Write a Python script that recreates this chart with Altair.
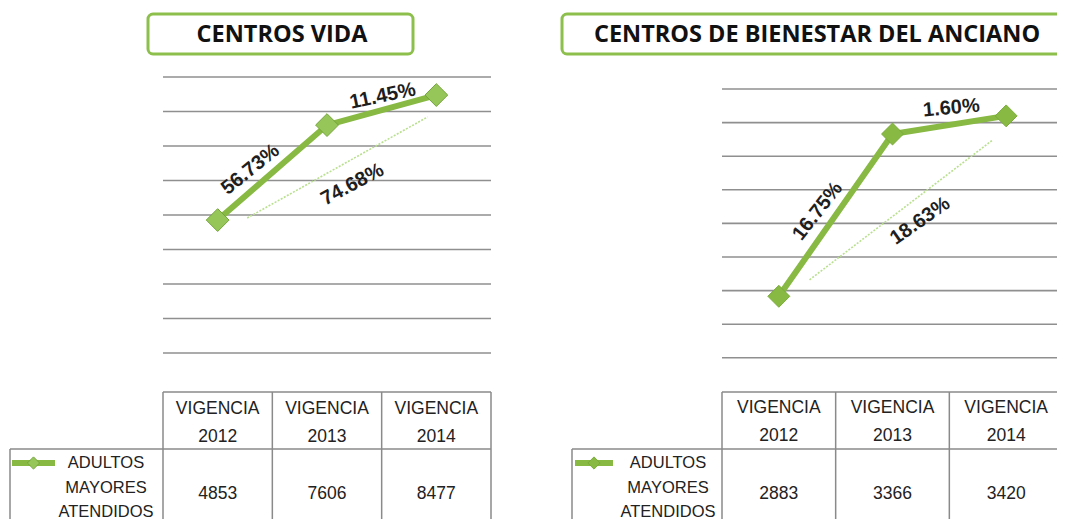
import altair as alt
import pandas as pd
import math

# ---------------- data ----------------
YEARS = [2012, 2013, 2014]
TICK_LABELS = ["VIGENCIA 2012", "VIGENCIA 2013", "VIGENCIA 2014"]
SERIES_NAME = "ADULTOS MAYORES ATENDIDOS"
COLUMN_EDGES = [2011.5, 2012.5, 2013.5, 2014.5]

VIDA_TITLE = "CENTROS VIDA"
VIDA_VALUES = [4853, 7606, 8477]
VIDA_GRID = [1000, 2000, 3000, 4000, 5000, 6000, 7000, 8000, 9000]
VIDA_PCT = ["56.73%", "11.45%", "74.68%"]
VIDA_TREND_YEARS = [2012.27, 2013.92]
VIDA_TREND_VALUES = [4913, 7841]

BIEN_TITLE = "CENTROS DE BIENESTAR DEL ANCIANO"
BIEN_VALUES = [2883, 3366, 3420]
BIEN_GRID = [2700, 2800, 2900, 3000, 3100, 3200, 3300, 3400, 3500]
BIEN_PCT = ["16.75%", "1.60%", "18.63%"]
BIEN_TREND_YEARS = [2012.27, 2013.88]
BIEN_TREND_VALUES = [2932, 3348]

# ---------------- style ----------------
O = 8  # page margin
GREEN = "#87b943"
GRID = "#8f8f8f"
BORDER = "#8a8a8a"
LABEL_FONT = "Liberation Sans"
TITLE_FONT = "Open Sans"
TABLE_FS = 17.5


def rot_offset(sx, sy, ang):
    """convert a screen offset into the rotated text frame used by Vega"""
    t = math.radians(ang)
    dx = sx * math.cos(t) + sy * math.sin(t)
    dy = -sx * math.sin(t) + sy * math.cos(t)
    return dx, dy


def panel(p):
    xs = alt.Scale(domain=[COLUMN_EDGES[0], COLUMN_EDGES[-1]], range=[p["x0"] - O, p["x1"] - O])
    ys = alt.Scale(domain=p["ydom"], range=[p["yb"] - O, p["yt"] - O])

    def X(f):
        return alt.X(f, type="quantitative", scale=xs, axis=None)

    def Y(f):
        return alt.Y(f, type="quantitative", scale=ys, axis=None)

    vals = p["values"]
    pts = pd.DataFrame({"year": YEARS, "value": vals})
    grid = pd.DataFrame({"v": p["grid"], "xa": COLUMN_EDGES[0], "xb": COLUMN_EDGES[-1]})
    trend = pd.DataFrame({"year": p["trend_years"], "value": p["trend_values"]})

    layers = []
    layers.append(
        alt.Chart(grid).mark_rule(color=GRID, strokeWidth=1.6).encode(
            y=Y("v"), x=X("xa"), x2="xb"
        )
    )
    layers.append(
        alt.Chart(trend).mark_line(color="#b9e08e", strokeWidth=1.6, strokeDash=[2, 1.5]).encode(
            x=X("year"), y=Y("value")
        )
    )
    layers.append(
        alt.Chart(pts).mark_line(color=GREEN, strokeWidth=6).encode(x=X("year"), y=Y("value"))
    )
    layers.append(
        alt.Chart(pts).mark_point(
            shape="diamond", filled=True, size=p["msize"], fill=p["mfill"],
            stroke=p["mstroke"], strokeWidth=1, opacity=1
        ).encode(x=X("year"), y=Y("value"))
    )

    # percentage labels: two segments + overall trend
    mids = [
        ((YEARS[0] + YEARS[1]) / 2, (vals[0] + vals[1]) / 2),
        ((YEARS[1] + YEARS[2]) / 2, (vals[1] + vals[2]) / 2),
        (sum(p["trend_years"]) / 2, sum(p["trend_values"]) / 2),
    ]
    for (mx, my), lab, (sx, sy, ang) in zip(mids, p["pct"], p["lab_style"]):
        dx, dy = rot_offset(sx, sy, ang)
        df = pd.DataFrame({"year": [mx], "value": [my], "label": [lab]})
        layers.append(
            alt.Chart(df).mark_text(
                font=LABEL_FONT, fontSize=20, fontWeight="bold", color="#1e1e1e",
                angle=(ang % 360), dx=dx, dy=dy, align="center", baseline="middle"
            ).encode(x=X("year"), y=Y("value"), text="label:N")
        )

    # title box
    tdf = pd.DataFrame({"t": [p["title"]]})
    layers.append(
        alt.Chart(tdf).mark_rect(fill="white", stroke="#8dbf4c", strokeWidth=3, cornerRadius=5).encode(
            x=alt.value(p["box"][0] - O), x2=alt.value(p["box"][1] - O),
            y=alt.value(14 - O), y2=alt.value(54 - O)
        )
    )
    layers.append(
        alt.Chart(tdf).mark_text(
            font=TITLE_FONT, fontSize=23.5, fontWeight="bold", color="#111111",
            align="center", baseline="middle"
        ).encode(x=alt.value(p["title_x"] - O), y=alt.value(35 - O), text="t:N")
    )

    # data table
    edges = pd.DataFrame({"edge": COLUMN_EDGES})
    hdr = pd.DataFrame({"xa": [COLUMN_EDGES[0]], "xb": [COLUMN_EDGES[-1]]})
    layers.append(
        alt.Chart(hdr).mark_rule(color=BORDER, strokeWidth=1.5).encode(
            x=X("xa"), x2="xb", y=alt.value(392 - O)
        )
    )
    layers.append(
        alt.Chart(edges).mark_rule(color=BORDER, strokeWidth=1.5).encode(
            x=X("edge"), y=alt.value(392 - O), y2=alt.value(540 - O)
        )
    )
    layers.append(
        alt.Chart(hdr).mark_rule(color=BORDER, strokeWidth=1.5).encode(
            x=alt.value(p["leg_left"] - O), x2=alt.value(p["x1"] - O), y=alt.value(449 - O)
        )
    )
    layers.append(
        alt.Chart(hdr).mark_rule(color=BORDER, strokeWidth=1.5).encode(
            x=alt.value(p["leg_left"] - O), y=alt.value(449 - O), y2=alt.value(540 - O)
        )
    )
    tab = pd.DataFrame({"year": YEARS, "value": vals, "header": TICK_LABELS})
    layers.append(
        alt.Chart(tab).mark_text(
            font=LABEL_FONT, fontSize=TABLE_FS, color="#222222", align="center", baseline="top",
            lineBreak=" ", lineHeight=28
        ).encode(x=X("year"), y=alt.value(p["hdr_y"] - O), text="header:N")
    )
    layers.append(
        alt.Chart(tab).mark_text(
            font=LABEL_FONT, fontSize=TABLE_FS, color="#222222", align="center", baseline="middle"
        ).encode(x=X("year"), y=alt.value(494 - O), text=alt.Text("value:Q", format="d"))
    )
    # legend key
    ldf = pd.DataFrame({"s": [SERIES_NAME]})
    layers.append(
        alt.Chart(ldf).mark_rule(color=GREEN, strokeWidth=6).encode(
            x=alt.value(p["key"][0] - O), x2=alt.value(p["key"][1] - O), y=alt.value(463 - O)
        )
    )
    layers.append(
        alt.Chart(ldf).mark_point(shape="diamond", filled=True, size=150, fill=p["mfill"],
                                  stroke=p["mstroke"], strokeWidth=1, opacity=1).encode(
            x=alt.value((p["key"][0] + p["key"][1]) / 2 - O), y=alt.value(463 - O)
        )
    )
    layers.append(
        alt.Chart(ldf).mark_text(
            font=LABEL_FONT, fontSize=16.5, color="#222222", align="center", baseline="top",
            lineBreak=" ", lineHeight=24.5
        ).encode(x=alt.value(p["leg_x"] - O), y=alt.value(455 - O), text="s:N")
    )
    return alt.layer(*layers)


left = panel(dict(
    x0=163, x1=491, ydom=[0, 9000], yb=387.5, yt=77,
    values=VIDA_VALUES, grid=VIDA_GRID, pct=VIDA_PCT,
    trend_years=VIDA_TREND_YEARS, trend_values=VIDA_TREND_VALUES,
    lab_style=[(-22, -3, -39), (1, -14, -12), (15, 17, -28)],
    msize=520, mfill="#96c65a", mstroke="#74a53a",
    title=VIDA_TITLE, box=(148, 413), title_x=282,
    leg_left=10, key=(12, 55), leg_x=106, hdr_y=400,
))
right = panel(dict(
    x0=722, x1=1063, ydom=[2600, 3500], yb=391.4, yt=89,
    values=BIEN_VALUES, grid=BIEN_GRID, pct=BIEN_PCT,
    trend_years=BIEN_TREND_YEARS, trend_values=BIEN_TREND_VALUES,
    lab_style=[(-18, -4, -52), (2, -17, -5), (19, 11, -35)],
    msize=480, mfill="#87b943", mstroke="#7aab3a",
    title=BIEN_TITLE, box=(562, 1075), title_x=817,
    leg_left=572, key=(575, 613), leg_x=668, hdr_y=399,
))

chart = alt.layer(left, right).resolve_scale(x="independent", y="independent").properties(
    width=1049, height=511, autosize=alt.AutoSizeParams(type="none"), padding=0,
    background="white"
).configure_view(stroke=None)

chart.save("out.html", embed_options={"renderer": "svg", "actions": False})
